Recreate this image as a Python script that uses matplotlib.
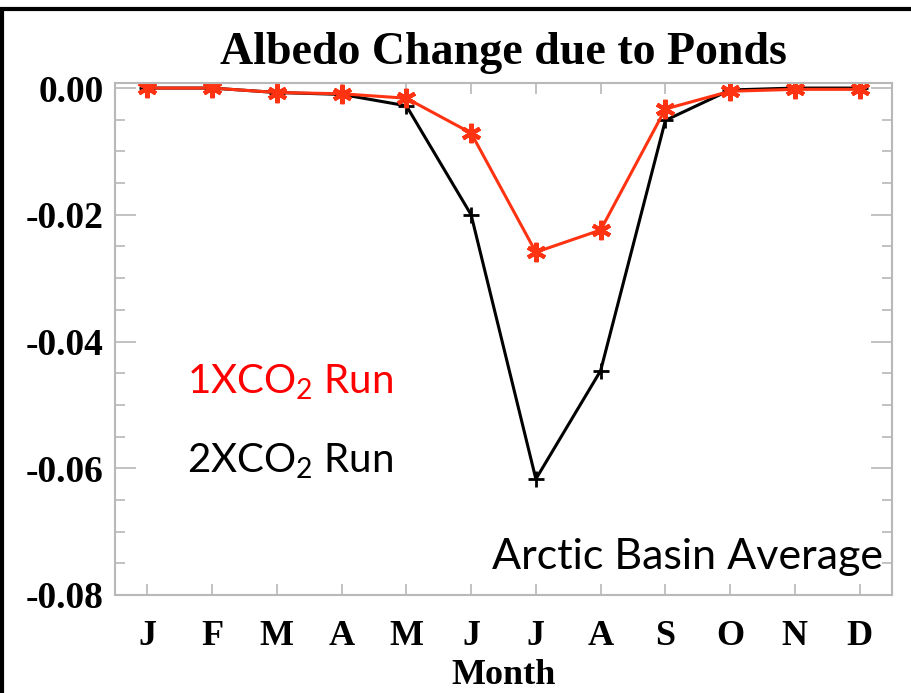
import matplotlib.pyplot as plt
from matplotlib.patches import Rectangle
from matplotlib.ticker import MultipleLocator

months = ["J", "F", "M", "A", "M", "J", "J", "A", "S", "O", "N", "D"]
month_idx = list(range(1, 13))

# albedo change, arctic basin average
run_2xco2 = [0.0, 0.0, -0.0007, -0.001, -0.0028, -0.020, -0.0617, -0.0446, -0.0051, -0.0003, 0.0, 0.0]
run_1xco2 = [0.0, 0.0, -0.0007, -0.0009, -0.0016, -0.0071, -0.0259, -0.0224, -0.0033, -0.0005, -0.0002, -0.0002]

plt.rcParams['mathtext.fontset'] = 'custom'
plt.rcParams['mathtext.rm'] = 'Lato'

fig = plt.figure(figsize=(9.12, 6.93), dpi=100)
ax = fig.add_axes([115/912, 1 - 595/693, 777/912, 512/693])

red = '#ff3311'
ax.plot(month_idx, run_2xco2, color='black', lw=2.2, marker='+', ms=12, mew=2)
ax.plot(month_idx, run_1xco2, color=red, lw=2.2, marker=(6, 2, 0), ms=14, mew=3)

ax.set_xlim(0.5, 12.5)
ax.set_ylim(-0.08, 0.0008)
ax.set_xticks(month_idx)
ax.set_xticklabels(months)
ax.set_yticks([0.0, -0.02, -0.04, -0.06, -0.08])
ax.set_yticklabels(["0.00", "-0.02", "-0.04", "-0.06", "-0.08"])
ax.yaxis.set_minor_locator(MultipleLocator(0.005))

serif = {'family': 'Liberation Serif', 'weight': 'bold'}
for lab in ax.get_yticklabels():
    lab.set_fontfamily('Liberation Serif')
    lab.set_fontweight('bold')
    lab.set_fontsize(27)
for lab in ax.get_xticklabels():
    lab.set_fontfamily('Liberation Serif')
    lab.set_fontweight('bold')
    lab.set_fontsize(26)

grey = '#b8b8b8'
for sp in ax.spines.values():
    sp.set_color(grey)
    sp.set_linewidth(1.5)
ax.tick_params(which='both', direction='in', top=True, right=True, color=grey, width=1.2)
ax.tick_params(axis='y', which='major', length=15, pad=8)
ax.tick_params(axis='y', which='minor', length=7)
ax.tick_params(axis='x', which='major', length=8, pad=18)

ax.set_title("Albedo Change due to Ponds", fontdict=serif, fontsize=33, pad=14)
ax.set_xlabel("Month", fontdict=serif, fontsize=26, labelpad=4)

ax.text(0.093, 0.415, r"1XCO$_2$ Run", transform=ax.transAxes, color='red',
        fontsize=29, family='Lato', va='center', ha='left')
ax.text(0.093, 0.262, r"2XCO$_2$ Run", transform=ax.transAxes, color='black',
        fontsize=29, family='Lato', va='center', ha='left')
ax.text(0.989, 0.074, "Arctic Basin Average", transform=ax.transAxes, color='black',
        fontsize=31, family='Lato', va='center', ha='right')

# outer frame round the picture
fig.patches.append(Rectangle((2/912, -0.1), 1.2, 1 - 9/693 + 0.1, transform=fig.transFigure,
                             fill=False, edgecolor='black', lw=3, clip_on=False))

plt.savefig("out.png")
plt.close()
